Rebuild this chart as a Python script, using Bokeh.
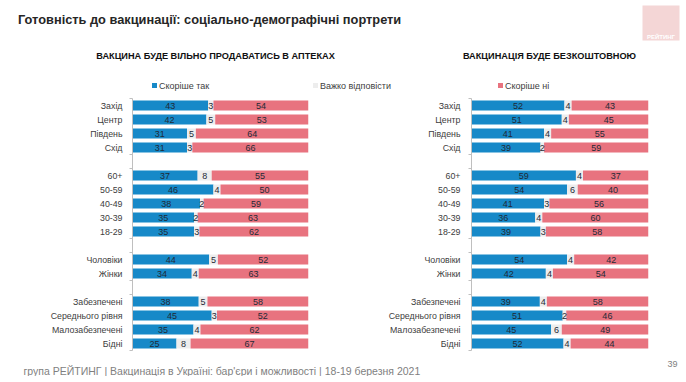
import numpy as np
from bokeh.plotting import figure
from bokeh.layouts import column, row
from bokeh.models import Range1d, FixedTicker, ColumnDataSource, Label, BoxAnnotation
from bokeh.embed import file_html
from bokeh.resources import INLINE
from bokeh.core.properties import value

# ---------------- data ----------------
categories = ["Захід", "Центр", "Південь", "Схід",
              "60+", "50-59", "40-49", "30-39", "18-29",
              "Чоловіки", "Жінки",
              "Забезпечені", "Середнього рівня", "Малозабезпечені", "Бідні"]
group_sizes = [4, 5, 2, 4]

series_names = ["Скоріше так", "Важко відповісти", "Скоріше ні"]

pharm_yes = [43, 42, 31, 31, 37, 46, 38, 35, 35, 44, 34, 38, 45, 35, 25]
pharm_hard = [3, 5, 5, 3, 8, 4, 2, 2, 3, 5, 4, 5, 3, 4, 8]
pharm_no = [54, 53, 64, 66, 55, 50, 59, 63, 62, 52, 63, 58, 52, 62, 67]

free_yes = [52, 51, 41, 39, 59, 54, 41, 36, 39, 54, 42, 39, 51, 45, 52]
free_hard = [4, 4, 4, 2, 4, 6, 3, 4, 3, 4, 4, 4, 2, 6, 4]
free_no = [43, 45, 55, 59, 37, 40, 56, 60, 58, 42, 54, 58, 46, 49, 44]

title_text = "Готовність до вакцинації: соціально-демографічні портрети"
left_title = "ВАКЦИНА БУДЕ ВІЛЬНО ПРОДАВАТИСЬ В АПТЕКАХ"
right_title = "ВАКЦИНАЦІЯ БУДЕ БЕЗКОШТОВНОЮ"
footer_text = "група РЕЙТИНГ | Вакцинація в Україні: бар'єри і можливості | 18-19 березня 2021"
page_no = "39"

# ---------------- style ----------------
FONT = "Liberation Sans"
BLUE = "#1789C8"
LIGHT = "#EDEDED"
PINK = "#E8737F"
TXT = "#262626"
COLORS = [BLUE, LIGHT, PINK]

# slot positions with a blank slot between groups
ypos, bounds = [], []
s = 0
for g in group_sizes:
    bounds.append(s - 0.5)
    for _ in range(g):
        ypos.append(s)
        s += 1
    bounds.append(s - 0.5)
    s += 1
n_slots = s - 1


def bar_chart(yes, hard, no, width, border_left, border_right, border_top, border_bottom, standoff):
    yes = np.array(yes, float)
    hard = np.array(hard, float)
    no = np.array(no, float)
    tot = yes + hard + no
    a = yes / tot
    b = a + hard / tot
    src = ColumnDataSource(dict(
        y=ypos, a=a, b=b, one=np.ones_like(a), zero=np.zeros_like(a),
        c1=a / 2, c2=(a + b) / 2, c3=(b + 1) / 2,
        t1=[str(int(v)) for v in yes], t2=[str(int(v)) for v in hard], t3=[str(int(v)) for v in no],
    ))
    p = figure(width=width, height=264, output_backend="svg", toolbar_location=None,
               x_range=Range1d(0, 1), y_range=Range1d(n_slots - 0.5, -0.5),
               min_border_left=border_left, min_border_right=border_right,
               min_border_top=border_top, min_border_bottom=border_bottom)
    p.hbar(y="y", left="zero", right="a", height=0.7, source=src, fill_color=COLORS[0], line_color=None)
    p.hbar(y="y", left="a", right="b", height=0.7, source=src, fill_color=COLORS[1], line_color=None)
    p.hbar(y="y", left="b", right="one", height=0.7, source=src, fill_color=COLORS[2], line_color=None)
    for xc, tc in (("c1", "t1"), ("c2", "t2"), ("c3", "t3")):
        p.text(x=xc, y="y", text=tc, source=src, text_align="center", text_baseline="middle",
               text_font=value(FONT), text_font_size="9px", text_color="#1f2a36")
    p.xaxis.visible = False
    p.grid.visible = False
    p.outline_line_color = None
    ax = p.yaxis[0]
    ax.ticker = FixedTicker(ticks=ypos, minor_ticks=bounds)
    ax.major_label_overrides = {int(v): c for v, c in zip(ypos, categories)}
    ax.major_tick_line_color = None
    ax.major_tick_out = 0
    ax.major_tick_in = 0
    ax.minor_tick_out = 3
    ax.minor_tick_in = 0
    ax.minor_tick_line_color = "#BFBFBF"
    ax.axis_line_color = "#BFBFBF"
    ax.major_label_standoff = standoff
    ax.major_label_text_font = FONT
    ax.major_label_text_font_size = "8.8px"
    ax.major_label_text_color = "#404040"
    return p


left = bar_chart(pharm_yes, pharm_hard, pharm_no, 343, 132, 35, 6, 3, 7)
right = bar_chart(free_yes, free_hard, free_no, 343, 128, 38, 3, 6, 8)

# ---------------- header ----------------
head = figure(width=686, height=92, output_backend="svg", toolbar_location=None,
              x_range=Range1d(0, 686), y_range=Range1d(92, 0), min_border=0)
head.axis.visible = False
head.grid.visible = False
head.outline_line_color = None
head.add_layout(Label(x=17.5, y=19, text=title_text, text_font=FONT, text_font_size="12.8px",
                      text_font_style="bold", text_color=TXT, text_baseline="middle"))
head.add_layout(Label(x=215, y=55, text=left_title, text_font=FONT, text_font_size="9.2px",
                      text_font_style="bold", text_color="#111111", text_baseline="middle", text_align="center"))
head.add_layout(Label(x=549, y=55, text=right_title, text_font=FONT, text_font_size="9.2px",
                      text_font_style="bold", text_color="#111111", text_baseline="middle", text_align="center"))
head.add_layout(BoxAnnotation(left=642, right=679, top=5, bottom=40, fill_color="#F4D6D6",
                              fill_alpha=1, line_color=None))
head.add_layout(Label(x=660.5, y=36, text="РЕЙТИНГ", text_font=FONT, text_font_size="6px",
                      text_font_style="bold", text_color="white", text_baseline="middle", text_align="center"))
leg_x = [154, 315, 500]
head.rect(x=leg_x, y=[85, 85, 85], width=5, height=5, fill_color=COLORS, line_color=None)
for lx, name in zip(leg_x, series_names):
    head.add_layout(Label(x=lx + 4.5, y=85, text=name, text_font=FONT, text_font_size="9px",
                          text_color="#404040", text_baseline="middle"))

# ---------------- footer ----------------
foot = figure(width=686, height=20, output_backend="svg", toolbar_location=None,
              x_range=Range1d(0, 686), y_range=Range1d(20, 0), min_border=0)
foot.axis.visible = False
foot.grid.visible = False
foot.outline_line_color = None
foot.add_layout(Label(x=23, y=14, text=footer_text, text_font=FONT, text_font_size="10.5px",
                      text_color="#7F7F7F", text_baseline="middle"))
foot.add_layout(Label(x=677, y=7, text=page_no, text_font=FONT, text_font_size="9px",
                      text_color="#7F7F7F", text_baseline="middle", text_align="right"))

p = column(head, row(left, right), foot)
open("out.html", "w").write(file_html(p, INLINE))
